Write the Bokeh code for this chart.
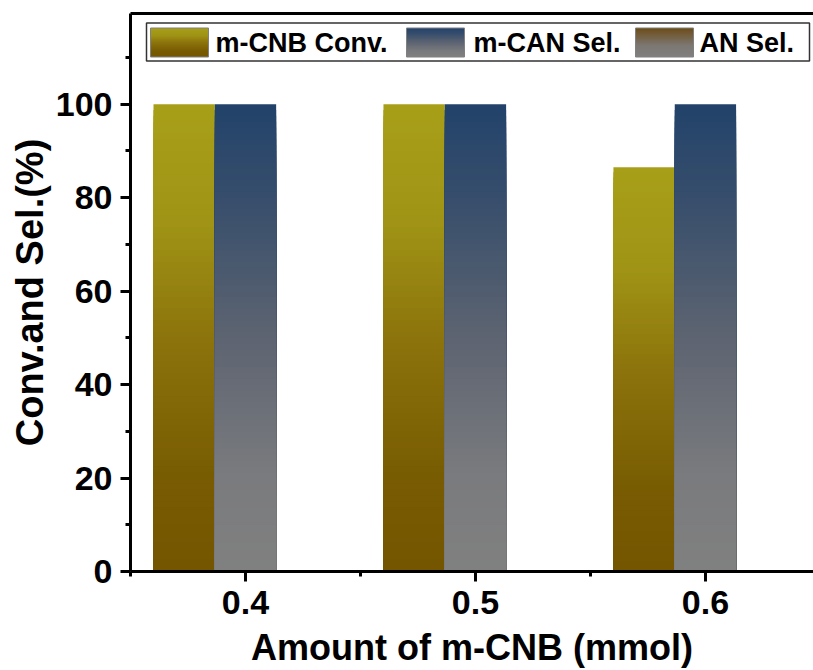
from bokeh.plotting import figure
from bokeh.models import FixedTicker, LinearAxis, Label
from bokeh.embed import file_html
from bokeh.resources import INLINE

# ---- data ----
amounts = [0.4, 0.5, 0.6]
tick_labels = ["0.4", "0.5", "0.6"]
series_names = ["m-CNB Conv.", "m-CAN Sel.", "AN Sel."]
conv = [100.0, 100.0, 86.5]
mcan_sel = [100.0, 100.0, 100.0]
an_sel = [0.0, 0.0, 0.0]
y_ticks = [0, 20, 40, 60, 80, 100]
y_minor = [10, 30, 50, 70, 90, 110]
x_minor = [0.35, 0.45, 0.55, 0.65]

# ---- gradient colour stops (fraction from bottom -> rgb) ----
conv_stops = [(0.0, (116, 86, 0)), (0.2, (120, 91, 2)), (0.5, (140, 116, 12)),
              (0.75, (160, 148, 22)), (1.0, (168, 159, 24))]
sel_stops = [(0.0, (128, 128, 128)), (0.2, (122, 123, 126)), (0.5, (93, 100, 113)),
             (0.8, (55, 78, 108)), (1.0, (34, 66, 106))]
an_stops = [(0.0, (128, 128, 128)), (0.4, (124, 120, 115)), (1.0, (108, 76, 22))]


def interp(stops, f):
    for (f0, c0), (f1, c1) in zip(stops[:-1], stops[1:]):
        if f <= f1:
            t = 0 if f1 == f0 else (f - f0) / (f1 - f0)
            c = [round(a + (b - a) * t) for a, b in zip(c0, c1)]
            return "#%02x%02x%02x" % tuple(c)
    return "#%02x%02x%02x" % stops[-1][1]


X0, X1 = 0.35, 0.647
Y0, Y1 = 0.0, 119.4
FL, FW = 130.0, 683.0
FT, FB = 13.5, 571.5


def dx(px):
    return X0 + (px - FL) / FW * (X1 - X0)


def dy(py):
    return Y0 + (FB - py) / (FB - FT) * (Y1 - Y0)


p = figure(width=813, height=670, x_range=(X0, X1), y_range=(Y0, Y1),
           output_backend="svg", toolbar_location=None,
           min_border_left=130, min_border_right=0, min_border_top=13,
           min_border_bottom=99)
p.outline_line_color = None
p.xgrid.visible = False
p.ygrid.visible = False
p.background_fill_color = "white"


def grad_rects(lefts, rights, bottoms, tops, stops, n=80):
    L, R, B, T, C = [], [], [], [], []
    for l, r, b, t in zip(lefts, rights, bottoms, tops):
        if t - b <= 0:
            continue
        for i in range(n, 0, -1):
            L.append(l); R.append(r); B.append(b)
            T.append(b + (t - b) * i / n)
            C.append(interp(stops, (i - 0.5) / n))
    if L:
        p.quad(left=L, right=R, bottom=B, top=T, fill_color=C, line_color=None)


bar_w = 0.08 / 3
for k, (vals, stops) in enumerate([(conv, conv_stops), (mcan_sel, sel_stops), (an_sel, an_stops)]):
    off = (k - 1) * bar_w
    grad_rects([a + off - bar_w / 2 for a in amounts],
               [a + off + bar_w / 2 for a in amounts],
               [0.0] * len(amounts), vals, stops)

# ---- axes ----
for ax in (p.xaxis[0], p.yaxis[0]):
    ax.axis_line_width = 3
    ax.major_tick_line_width = 3
    ax.minor_tick_line_width = 3
    ax.major_tick_out = 10
    ax.major_tick_in = 0
    ax.minor_tick_out = 5
    ax.minor_tick_in = 0
    ax.major_label_text_font = "Liberation Sans"
    ax.major_label_text_font_style = "bold"
    ax.major_label_text_font_size = "34px"
    ax.major_label_text_color = "black"
    ax.axis_label_text_font = "Liberation Sans"
    ax.axis_label_text_font_style = "bold"
    ax.axis_label_text_color = "black"

p.xaxis.ticker = FixedTicker(ticks=amounts, minor_ticks=x_minor)
p.xaxis.major_label_overrides = {a: t for a, t in zip(amounts, tick_labels)}
p.xaxis.axis_label = "Amount of m-CNB (mmol)"
p.xaxis.axis_label_text_font_size = "36px"
p.xaxis.major_label_standoff = 9
p.xaxis.axis_label_standoff = 10

p.yaxis.ticker = FixedTicker(ticks=y_ticks, minor_ticks=y_minor)
p.yaxis.axis_label = "Conv.and Sel.(%)"
p.yaxis.axis_label_text_font_size = "38px"
p.yaxis.major_label_standoff = 8
p.yaxis.axis_label_standoff = 2

top_ax = LinearAxis(ticker=FixedTicker(ticks=[]), major_label_text_font_size="0px",
                    axis_line_width=3, major_tick_out=0, minor_tick_out=0,
                    major_label_standoff=0, axis_label_standoff=0)
p.add_layout(top_ax, "above")

# ---- legend (drawn by hand so swatches can carry the gradients) ----
p.quad(left=[dx(146)], right=[dx(809)], bottom=[dy(61)], top=[dy(23)],
       fill_color="white", line_color="#333333", line_width=1.5)
sw_left = [150, 406, 635]
txt_left = [215, 473, 699]
for name, stops, sl, tl in zip(series_names, [conv_stops, sel_stops, an_stops], sw_left, txt_left):
    grad_rects([dx(sl)], [dx(sl + 58)], [dy(57)], [dy(28)], stops, n=30)
    p.quad(left=[dx(sl)], right=[dx(sl + 58)], bottom=[dy(57)], top=[dy(28)],
           fill_color=None, line_color="#808080", line_width=1)
    p.add_layout(Label(x=dx(tl), y=dy(42.5), text=name, text_font="Liberation Sans",
                       text_font_style="bold", text_font_size="27px",
                       text_baseline="middle", text_align="left", text_color="black"))

open("out.html", "w").write(file_html(p, INLINE))
